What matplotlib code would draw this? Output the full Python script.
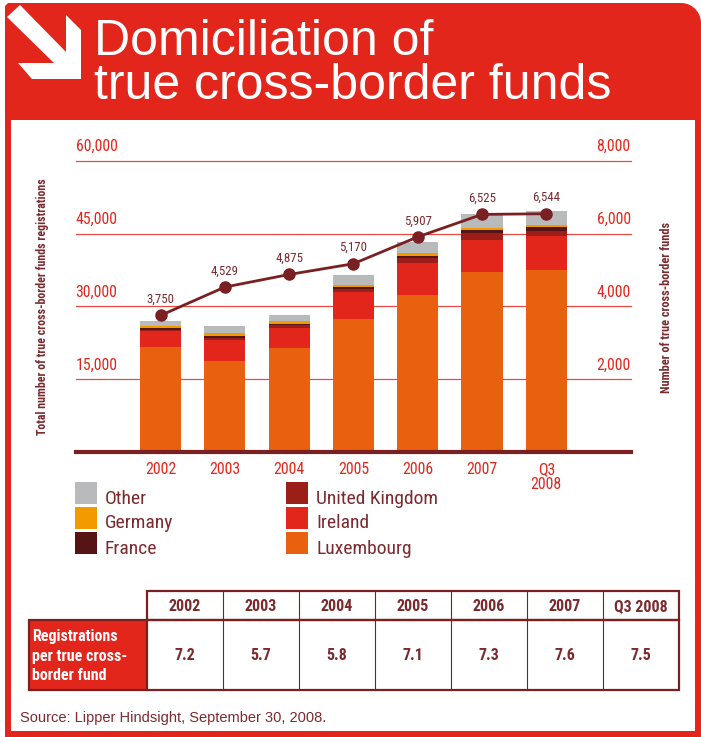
import matplotlib

matplotlib.use("Agg")
import matplotlib.pyplot as plt
import numpy as np
from matplotlib.patches import Polygon, Rectangle

# ---- data ----
years = ["2002", "2003", "2004", "2005", "2006", "2007", "Q3\n2008"]
table_years = ["2002", "2003", "2004", "2005", "2006", "2007", "Q3 2008"]
luxembourg = [21660, 18770, 21450, 27440, 32390, 36990, 37400]
ireland = [3360, 4400, 4130, 5420, 6460, 6750, 7020]
united_kingdom = [210, 410, 480, 710, 1030, 1290, 1170]
france = [290, 210, 350, 470, 490, 770, 680]
germany = [330, 760, 470, 410, 540, 270, 500]
other = [1030, 1440, 1380, 1920, 2270, 3030, 2950]
true_funds = [3750, 4529, 4875, 5170, 5907, 6525, 6544]
regs_per_fund = ["7.2", "5.7", "5.8", "7.1", "7.3", "7.6", "7.5"]
left_ticks = [15000, 30000, 45000, 60000]
right_ticks = [2000, 4000, 6000, 8000]

RED = "#e3261b"
MAROON = "#7a1f22"
TEXT = "#7b2a2e"
GRID = "#ea4a40"
NARROW = ["Roboto Condensed", "Liberation Sans", "DejaVu Sans"]
SANS = ["Liberation Sans", "DejaVu Sans"]

series = [
    ("Luxembourg", luxembourg, "#e9600e"),
    ("Ireland", ireland, "#e3261b"),
    ("United Kingdom", united_kingdom, "#9b1e18"),
    ("France", france, "#571414"),
    ("Germany", germany, "#f29a00"),
    ("Other", other, "#b9babc"),
]

W, H = 701, 737
fig = plt.figure(figsize=(W / 100, H / 100), dpi=100)
fig.patch.set_facecolor("white")

# decoration layer in pixel coordinates (y down)
deco = fig.add_axes([0, 0, 1, 1], zorder=0)
deco.set_xlim(0, W)
deco.set_ylim(H, 0)
deco.axis("off")

# red header with rounded top-right corner, thin red frame below it
r = 20
th = np.linspace(-np.pi / 2, 0, 20)
arc = [(W - r + r * np.cos(t), 3 + r + r * np.sin(t)) for t in th]
header = [(5, 120), (5, 6), (8, 3)] + arc + [(W, 120)]
deco.add_patch(Polygon(header, closed=True, color=RED, lw=0))
deco.add_patch(Rectangle((5, 118), 6, H - 118, color=RED, lw=0))
deco.add_patch(Rectangle((695, 118), 6, H - 118, color=RED, lw=0))
deco.add_patch(Rectangle((5, 731), W - 5, 6, color=RED, lw=0))

arrow = [(20, 5), (66, 52), (66, 15), (81, 30), (81, 79), (32, 79),
         (18, 63), (54, 63), (7, 17)]
deco.add_patch(Polygon(arrow, closed=True, color="white", lw=0))

deco.text(94, 55, "Domiciliation of", color="white", fontsize=36,
          family=SANS, va="baseline", ha="left")
deco.text(94, 99, "true cross-border funds", color="white", fontsize=36,
          family=SANS, va="baseline", ha="left")

# ---- chart ----
x = np.arange(len(years))
ax = fig.add_axes([75.7 / W, 1 - 452 / H, 555 / W, (452 - 160.7) / H], zorder=2)
ax.patch.set_alpha(0)
ax.set_xlim(-1.319, 7.313)
ax.set_ylim(0, 60000)
for s in ax.spines.values():
    s.set_visible(False)
ax.set_yticks([])
for v in left_ticks:
    ax.axhline(v, color=GRID, lw=0.9, zorder=1, clip_on=False)
    ax.annotate(f"{v:,}", xy=(0, v), xycoords=("axes fraction", "data"),
                xytext=(0, 7), textcoords="offset points", ha="left",
                va="baseline", color=RED, fontsize=11.4, family=NARROW)
ax.axhline(0, color=MAROON, lw=3, zorder=4, clip_on=False)

bottom = np.zeros(len(years))
for name, vals, col in series:
    ax.bar(x, vals, 0.64, bottom=bottom, color=col, lw=0, zorder=2)
    bottom += np.array(vals)

ax.set_xticks(x, years)
ax.tick_params(axis="x", length=0, pad=7, colors=RED, labelsize=11.4)
for lab in ax.get_xticklabels():
    lab.set_family(NARROW)
    lab.set_linespacing(1.05)

ax2 = ax.twinx()
ax2.set_ylim(0, 8000)
ax2.set_yticks([])
for s in ax2.spines.values():
    s.set_visible(False)
for v in right_ticks:
    ax2.annotate(f"{v:,}", xy=(1, v), xycoords=("axes fraction", "data"),
                 xytext=(0, 7), textcoords="offset points", ha="right",
                 va="baseline", color=RED, fontsize=11.4, family=NARROW)
ax2.plot(x, true_funds, color=MAROON, lw=2, marker="o", ms=8, zorder=5)
for xi, v in zip(x, true_funds):
    ax2.annotate(f"{v:,}", (xi, v), xytext=(0, 9), textcoords="offset points",
                 ha="center", va="baseline", color=TEXT, fontsize=9.3,
                 family=NARROW)

deco.text(43, 307, "Total number of true cross-border funds registrations",
          rotation=90, ha="center", va="center", color=TEXT, fontsize=8.6,
          fontweight="bold", family=NARROW)
deco.text(666, 307, "Number of true cross-border funds", rotation=90,
          ha="center", va="center", color=TEXT, fontsize=8.8,
          fontweight="bold", family=NARROW)

# ---- legend ----
by_name = {n: c for n, _, c in series}
columns = [(75, ["Other", "Germany", "France"]),
           (286, ["United Kingdom", "Ireland", "Luxembourg"])]
for x0, names in columns:
    for i, n in enumerate(names):
        y0 = 482 + 25 * i
        deco.add_patch(Rectangle((x0, y0), 22, 22, color=by_name[n], lw=0))
        deco.text(x0 + 30, y0 + 21.5, n, ha="left", va="baseline", color=TEXT,
                  fontsize=14, family=NARROW)

# ---- table ----
tx0, cw = 146.6, 76
ty0, ty1, ty2 = 590.7, 619.5, 690
deco.add_patch(Rectangle((29, ty1), tx0 - 29, ty2 - ty1, color=RED, lw=0))
for i, (yr, val) in enumerate(zip(table_years, regs_per_fund)):
    cx = tx0 + cw * (i + 0.5)
    deco.text(cx, (ty0 + ty1) / 2 + 1, yr, ha="center", va="center",
              color=TEXT, fontsize=11.5, fontweight="bold", family=NARROW)
    deco.text(cx, 656, val, ha="center", va="center", color=TEXT,
              fontsize=11.5, fontweight="bold", family=NARROW)
    if i > 0:
        deco.plot([tx0 + cw * i] * 2, [ty0, ty2], color=MAROON, lw=0.8)
deco.add_patch(Rectangle((tx0, ty0), cw * 7, ty1 - ty0, fill=False,
                         ec=MAROON, lw=1.6))
deco.add_patch(Rectangle((29, ty1), tx0 - 29 + cw * 7, ty2 - ty1, fill=False,
                         ec=MAROON, lw=1.6))
deco.plot([tx0, tx0], [ty1, ty2], color=MAROON, lw=1.6)
deco.text(32, 656, "Registrations\nper true cross-\nborder fund", ha="left",
          va="center", color="white", fontsize=11.5, fontweight="bold",
          family=NARROW, linespacing=1.35)

deco.text(20, 718, "Source: Lipper Hindsight, September 30, 2008.", ha="left",
          va="center", color=TEXT, fontsize=10.5, family=SANS)

fig.savefig("out.png", dpi=100)
